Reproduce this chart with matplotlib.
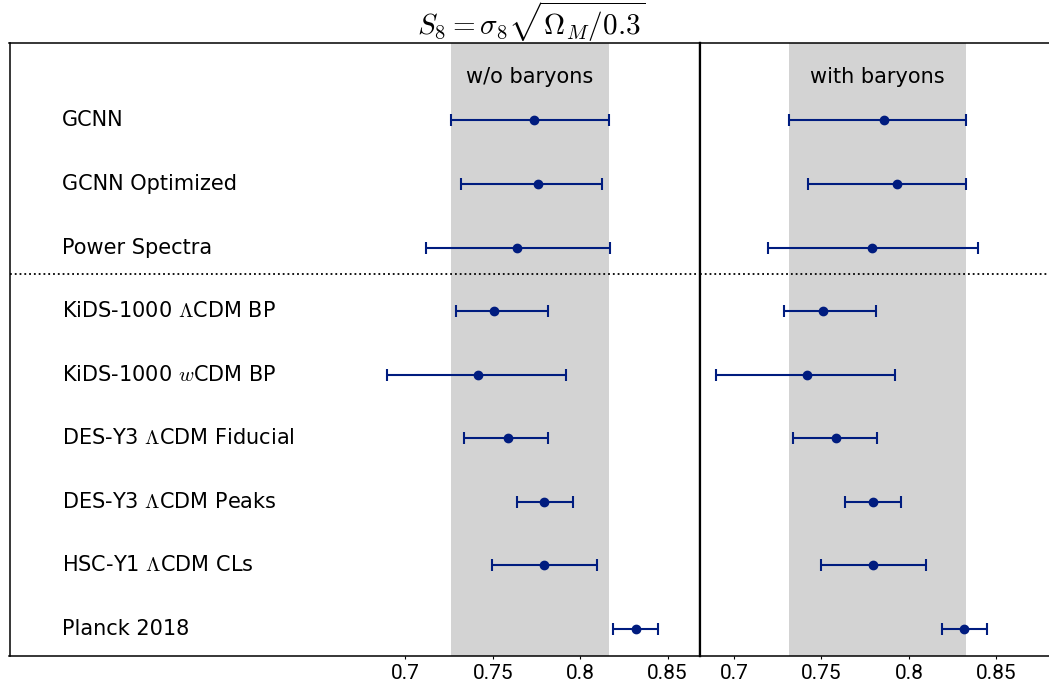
import matplotlib
matplotlib.use("Agg")
import matplotlib.pyplot as plt
import numpy as np

plt.rcParams['font.family'] = ['Roboto', 'DejaVu Sans']
plt.rcParams['mathtext.fontset'] = 'cm'

labels = ["GCNN", "GCNN Optimized", "Power Spectra",
          r"KiDS-1000 $\Lambda$CDM BP", r"KiDS-1000 $w$CDM BP",
          r"DES-Y3 $\Lambda$CDM Fiducial", r"DES-Y3 $\Lambda$CDM Peaks",
          r"HSC-Y1 $\Lambda$CDM CLs", "Planck 2018"]

# w/o baryons: center, low, high
nob_c  = [0.7734, 0.7758, 0.7641, 0.7507, 0.7416, 0.7585, 0.7795, 0.7795, 0.8317]
nob_lo = [0.7259, 0.7321, 0.7121, 0.7288, 0.6898, 0.7338, 0.7637, 0.7498, 0.8187]
nob_hi = [0.8164, 0.8126, 0.8172, 0.7814, 0.7921, 0.7818, 0.7957, 0.8095, 0.8446]

# with baryons
bar_c  = [0.7859, 0.7931, 0.7787, 0.7507, 0.7416, 0.7585, 0.7795, 0.7795, 0.8317]
bar_lo = [0.7313, 0.7421, 0.7196, 0.7288, 0.6898, 0.7338, 0.7637, 0.7498, 0.8187]
bar_hi = [0.8324, 0.8326, 0.8396, 0.7814, 0.7921, 0.7818, 0.7957, 0.8095, 0.8446]

xticks = [0.7, 0.75, 0.8, 0.85]
xticklabels = ["0.7", "0.75", "0.8", "0.85"]

color = '#001c7f'
W, H = 1049, 684
fig = plt.figure(figsize=(W/100, H/100), dpi=100)

top_px, bot_px = 43, 656
axL = fig.add_axes([9.5/W, (H-bot_px)/H, 690.5/W, (bot_px-top_px)/H])
axR = fig.add_axes([700/W, (H-bot_px)/H, 351/W, (bot_px-top_px)/H])

y = np.arange(len(labels))
ylim = (8.43, -1.22)

def panel(ax, c, lo, hi, xlim, text):
    c = np.array(c); lo = np.array(lo); hi = np.array(hi)
    ax.axvspan(lo[0], hi[0], color='lightgray', lw=0, zorder=0)
    ax.errorbar(c, y, xerr=[c-lo, hi-c], fmt='o', color=color, ms=6,
                elinewidth=1.5, capsize=4.5, capthick=1.5, zorder=3)
    ax.axhline(2.42, color='black', ls=':', lw=1.3, zorder=2)
    ax.set_xlim(*xlim)
    ax.set_ylim(*ylim)
    ax.set_yticks([])
    ax.set_xticks(xticks)
    ax.set_xticklabels(xticklabels, fontsize=15)
    ax.tick_params(axis='x', direction='out', length=2.5, width=0.8, pad=3)
    ax.text((lo[0]+hi[0])/2, -0.69, text, ha='center', va='center',
            fontsize=15, family=['DejaVu Sans'])
    for s in ax.spines.values():
        s.set_linewidth(1.1)

panel(axL, nob_c, nob_lo, nob_hi, (0.4737, 0.8685), "w/o baryons")
panel(axR, bar_c, bar_lo, bar_hi, (0.6806, 0.8812), "with baryons")
axL.spines['right'].set_linewidth(1.6)
axR.spines['left'].set_linewidth(1.6)

for yi, lab in zip(y, labels):
    axL.text(0.5037, yi, lab, ha='left', va='center', fontsize=15,
             family=['DejaVu Sans'])

fig.text(531/W, (H-35)/H, r"$S_8 = \sigma_8\sqrt{\Omega_M/0.3}$",
         ha='center', va='baseline', fontsize=21)

fig.savefig("out.png", dpi=100)
